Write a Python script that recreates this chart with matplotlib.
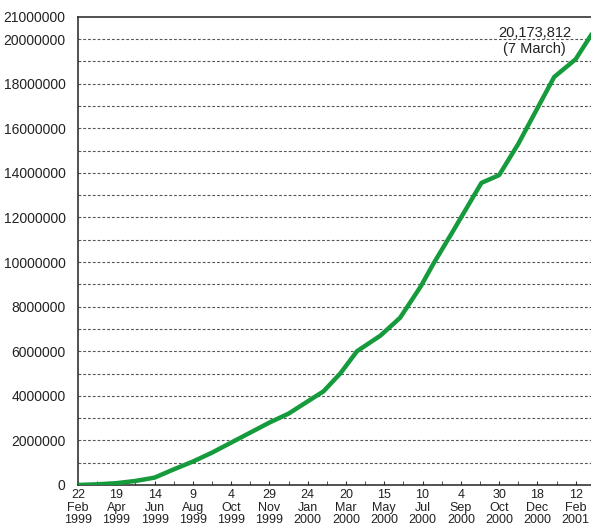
import numpy as np
from matplotlib import pyplot as plt

plt.rcParams['font.family'] = ['Liberation Sans', 'DejaVu Sans']

# weeks since 22 Feb 1999 and subscriber counts
weeks = [0, 4, 8, 12, 16, 20, 24, 28, 32, 36, 40, 44, 48, 51.3, 54.8, 58.3,
         63.2, 67.3, 71.6, 74.2, 78.4, 84.3, 88, 92, 96, 99.5, 104, 107.2]
users = [0, 30000, 80000, 180000, 330000, 700000, 1050000, 1450000, 1900000,
         2350000, 2800000, 3200000, 3750000, 4200000, 5000000, 6000000,
         6700000, 7500000, 8900000, 9900000, 11400000, 13550000, 13900000,
         15300000, 16900000, 18300000, 19100000, 20173812]

tick_labels = ["22\nFeb\n1999", "19\nApr\n1999", "14\nJun\n1999", "9\nAug\n1999",
               "4\nOct\n1999", "29\nNov\n1999", "24\nJan\n2000", "20\nMar\n2000",
               "15\nMay\n2000", "10\nJul\n2000", "4\nSep\n2000", "30\nOct\n2000",
               "18\nDec\n2000", "12\nFeb\n2001"]
tick_pos = [8 * i for i in range(len(tick_labels))]

fig = plt.figure(figsize=(5.91, 5.26), dpi=100)
ax = fig.add_axes([0.132, 0.078, 0.868, 0.890])

# dashed grid every million
for v in range(1000000, 21000000, 1000000):
    ax.axhline(v, color='#555555', lw=0.8, linestyle=(0, (2.5, 1.8)), zorder=1)

ax.plot(weeks, users, color='#159a3c', lw=3.2, solid_joinstyle='round', zorder=3)

ax.set_xlim(0, 107.2)
ax.set_ylim(0, 21000000)

yt = list(range(0, 21000000, 2000000)) + [21000000]
ax.set_yticks(yt)
ax.set_yticklabels([str(v) for v in yt], fontsize=10, color='#222222')
ax.tick_params(axis='y', length=0, pad=9)

ax.set_xticks(tick_pos)
ax.set_xticklabels(tick_labels, fontsize=9, color='#222222', linespacing=1.05)
ax.set_xticks(range(4, 108, 8), minor=True)
ax.tick_params(axis='x', which='both', direction='in', length=3, pad=3, color='#333333')

for s in ['left', 'bottom', 'top']:
    ax.spines[s].set_color('#333333')
    ax.spines[s].set_linewidth(1.2)
ax.spines['right'].set_visible(False)

ax.text(95.4, 19250000, "20,173,812\n(7 March)", fontsize=10.5, color='#222222',
        ha='center', va='bottom', linespacing=1.15, zorder=4)

plt.savefig('out.png', dpi=100)
